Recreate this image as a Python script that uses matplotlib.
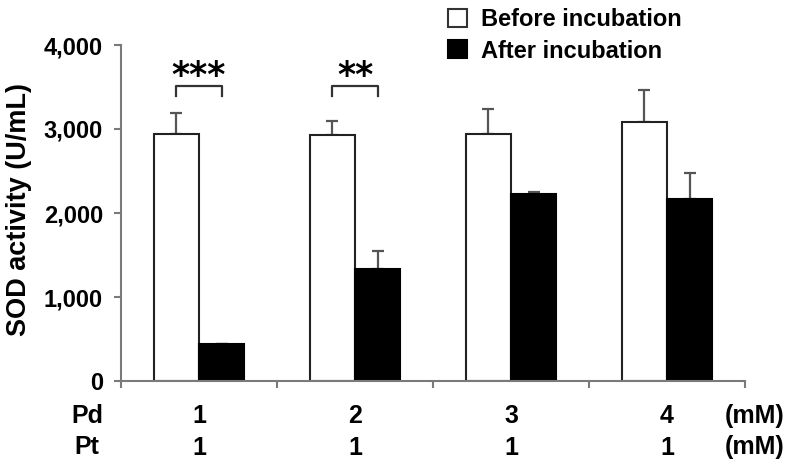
import numpy as np
import matplotlib
matplotlib.use('Agg')
import matplotlib.pyplot as plt
from matplotlib.patches import Patch
from matplotlib.ticker import FuncFormatter

plt.rcParams['font.family'] = ['Liberation Sans', 'DejaVu Sans']
plt.rcParams['font.weight'] = 'bold'

pd_conc = ['1', '2', '3', '4']
pt_conc = ['1', '1', '1', '1']
before = [2940, 2924, 2940, 3079]
before_err = [250, 175, 298, 389]
after = [437, 1331, 2225, 2166]
after_err = [8, 218, 25, 309]
signif = ['***', '**', '', '']

axis_grey = '#7a7a7a'
width = 0.29

fig = plt.figure(figsize=(7.97, 4.72), dpi=100)
ax = fig.add_axes([121 / 797, 1 - 381 / 472, (745 - 121) / 797, (381 - 45) / 472])

x = np.arange(len(pd_conc)) + 0.5
xb = x - width / 2
xa = x + width / 2

ax.bar(xb, before, width, color='white', edgecolor='#222222', linewidth=1.5, zorder=2)
ax.bar(xa, after, width, color='black', edgecolor='black', linewidth=1.5, zorder=2)
ax.errorbar(xb, before, yerr=[np.zeros(4), before_err], fmt='none',
            ecolor='#555555', elinewidth=1.6, capsize=4, capthick=1.6, zorder=1)
ax.errorbar(xa, after, yerr=[np.zeros(4), after_err], fmt='none',
            ecolor='#555555', elinewidth=1.6, capsize=4, capthick=1.6, zorder=1)

# significance brackets
for i, s in enumerate(signif):
    if not s:
        continue
    ax.plot([xb[i], xb[i], xa[i], xa[i]], [3390, 3508, 3508, 3390],
            color='#333333', lw=1.6, clip_on=False)
    ax.text(x[i], 3630, s, ha='center', va='center', fontsize=25,
            fontweight='bold', family='DejaVu Sans', clip_on=False)

ax.set_xlim(0, 4)
ax.set_ylim(0, 4000)
ax.set_yticks([0, 1000, 2000, 3000, 4000])
ax.yaxis.set_major_formatter(FuncFormatter(lambda v, p: f'{int(v):,}'))
ax.set_xticks([0, 1, 2, 3, 4])
ax.set_xticklabels([])
ax.tick_params(axis='both', direction='out', length=5, width=1.5, color=axis_grey,
               labelsize=17, pad=8)
for lab in ax.get_yticklabels():
    lab.set_fontweight('bold')

for side in ['top', 'right']:
    ax.spines[side].set_visible(False)
for side in ['left', 'bottom']:
    ax.spines[side].set_color(axis_grey)
    ax.spines[side].set_linewidth(1.5)

fig.text(19 / 797, 1 - 210 / 472, 'SOD activity (U/mL)', rotation=90,
         ha='center', va='center', fontsize=19.5, fontweight='bold')

# concentration rows under the axis
trans = ax.get_xaxis_transform()
for i in range(len(pd_conc)):
    ax.text(x[i], -0.105, pd_conc[i], transform=trans, ha='center', va='center',
            fontsize=18, fontweight='bold')
    ax.text(x[i], -0.2, pt_conc[i], transform=trans, ha='center', va='center',
            fontsize=18, fontweight='bold')
fig.text(87 / 797, 1 - 416 / 472, 'Pd', ha='center', va='center', fontsize=18, fontweight='bold')
fig.text(87 / 797, 1 - 447 / 472, 'Pt', ha='center', va='center', fontsize=18, fontweight='bold')
fig.text(755 / 797, 1 - 416 / 472, '(mM)', ha='center', va='center', fontsize=18, fontweight='bold')
fig.text(755 / 797, 1 - 447 / 472, '(mM)', ha='center', va='center', fontsize=18, fontweight='bold')

handles = [Patch(facecolor='white', edgecolor='#333333', linewidth=1.5, label='Before incubation'),
           Patch(facecolor='black', edgecolor='black', linewidth=1.5, label='After incubation')]
fig.legend(handles=handles, loc='upper left', bbox_to_anchor=(446 / 797, 1 - 6 / 472),
           frameon=False, handlelength=0.8, handleheight=0.8,
           handletextpad=0.6, labelspacing=0.35, borderpad=0.1, borderaxespad=0,
           prop={'weight': 'bold', 'size': 17})

fig.savefig('out.png', dpi=100)
